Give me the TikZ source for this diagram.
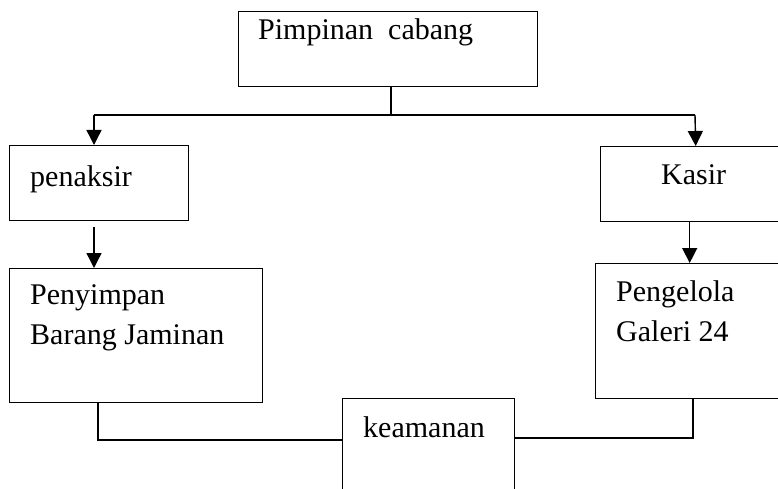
\documentclass[tikz,border=0pt]{standalone}
\usepackage{fontspec}
\setmainfont{Liberation Serif}
\usetikzlibrary{arrows.meta}
\tikzset{
  kotak/.style={draw, line width=1.4pt, inner sep=0pt, anchor=north west},
  tulisan/.style={inner sep=0pt, anchor=base west, font=\fontsize{30}{40}\selectfont},
  garis/.style={line width=1.4pt},
  panah/.style={line width=1.4pt, -{Triangle[length=15pt,width=15pt]}}
}
\begin{document}
\begin{tikzpicture}[x=1pt,y=-1pt]
        \clip (0,0) rectangle (778,489);

        \node[kotak, minimum width=299pt, minimum height=75pt] (pimpinan) at (238,11) {};
        \node[kotak, minimum width=179pt, minimum height=75pt] (penaksir) at (9,145) {};
        \node[kotak, minimum width=190pt, minimum height=75pt] (kasir) at (600,146) {};
        \node[kotak, minimum width=253pt, minimum height=134pt] (penyimpan) at (9,268) {};
        \node[kotak, minimum width=188pt, minimum height=135pt] (pengelola) at (595,263) {};
        \node[kotak, minimum width=172pt, minimum height=120pt] (keamanan) at (342,398) {};

        \node[tulisan] (tPimpinan) at (258,40) {Pimpinan\ \ cabang};
        \node[tulisan] (tPenaksir) at (30,186) {penaksir};
        \node[tulisan] (tKasir) at (661,185) {Kasir};
        \node[tulisan] (tPenyimpan1) at (30,304) {Penyimpan};
        \node[tulisan] (tPenyimpan2) at (30,344) {Barang Jaminan};
        \node[tulisan] (tPengelola1) at (616,301) {Pengelola};
        \node[tulisan] (tPengelola2) at (616,341) {Galeri 24};
        \node[tulisan] (tKeamanan) at (363,437) {keamanan};

        \coordinate (bus) at (391,115);
        \coordinate (busL) at (94,115);
        \coordinate (busR) at (695,115);
        \coordinate (jointL) at (98,440);
        \coordinate (jointR) at (693,438);

        \draw[garis] (pimpinan.south -| bus) -- (bus);
        \draw[line width=2pt] (busL) -- (busR);
        \draw[panah] (busL) -- (penaksir.north -| busL);
        \draw[panah] (busR) -- (kasir.north);
        \draw[panah] ([yshift=-6pt]penaksir.south -| busL) -- (penyimpan.north -| busL);
        \draw[panah] (kasir.south -| pengelola.north) -- (pengelola.north);
        \draw[garis] (penyimpan.south -| jointL) -- (jointL) -- (jointL -| keamanan.west);
        \draw[garis] (keamanan.east |- jointR) -- (jointR) -- (pengelola.south -| jointR);

\end{tikzpicture}
\end{document}
